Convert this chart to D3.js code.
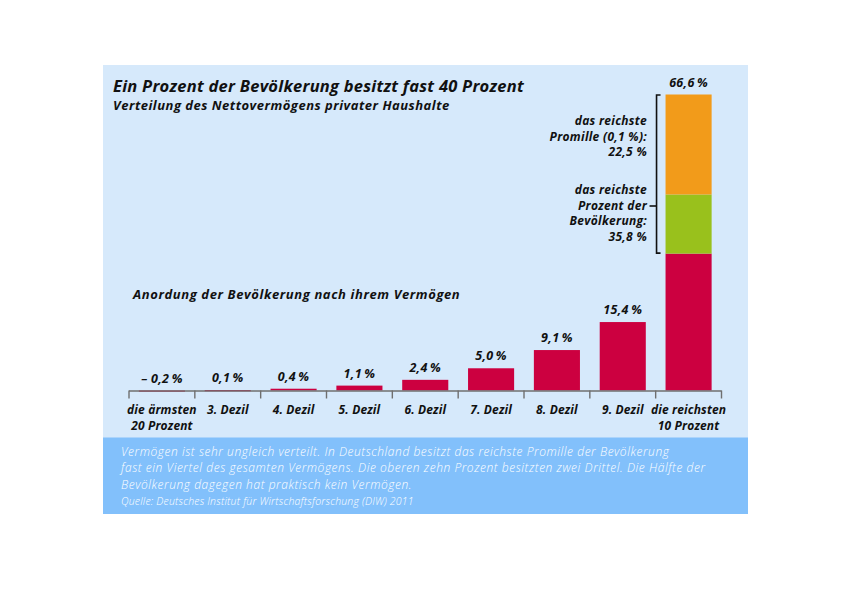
<!DOCTYPE html>
<html><head><meta charset="utf-8">
<script src="https://cdn.jsdelivr.net/npm/d3@7"></script>
<style>
body{margin:0;background:#fff;}
svg{display:block;}
text{font-family:"Open Sans","DejaVu Sans",sans-serif;}
</style></head>
<body>
<svg id="chart" width="842" height="595"></svg>
<script>
// ---- data ----
const categories = [["die ärmsten","20 Prozent"],["3. Dezil"],["4. Dezil"],["5. Dezil"],["6. Dezil"],["7. Dezil"],["8. Dezil"],["9. Dezil"],["die reichsten","10 Prozent"]];
const values = [-0.2, 0.1, 0.4, 1.1, 2.4, 5.0, 9.1, 15.4, 66.6];
// top decile breakdown (cumulative shares from the top)
const topPercentShare = 35.8;   // richest 1 %
const topPromilleShare = 22.5;  // richest 0.1 %
const titleText = "Ein Prozent der Bevölkerung besitzt fast 40 Prozent";
const subtitleText = "Verteilung des Nettovermögens privater Haushalte";
const axisTitle = "Anordung der Bevölkerung nach ihrem Vermögen";
const promilleLabel = ["das reichste","Promille (0,1 %):","22,5 %"];
const percentLabel = ["das reichste","Prozent der","Bevölkerung:","35,8 %"];
const noteLines = [
 "Vermögen ist sehr ungleich verteilt. In Deutschland besitzt das reichste Promille der Bevölkerung",
 "fast ein Viertel des gesamten Vermögens. Die oberen zehn Prozent besitzten zwei Drittel. Die Hälfte der",
 "Bevölkerung dagegen hat praktisch kein Vermögen."
];
const sourceText = "Quelle: Deutsches Institut für Wirtschaftsforschung (DIW) 2011";

// ---- styling ----
const C = {panel:"#d6e9fb", band:"#82c0fb", red:"#cc0040", green:"#99c11c", orange:"#f29b1a", axis:"#6f6f6f", text:"#111"};
const svg = d3.select("#chart");

svg.append("rect").attr("x",103).attr("y",65).attr("width",645).attr("height",373).attr("fill",C.panel);
svg.append("rect").attr("x",103).attr("y",437.5).attr("width",645).attr("height",76.5).attr("fill",C.band);

const keys = categories.map((c,i)=>"c"+i);
const x = d3.scaleBand().domain(keys).range([129,721.5]).paddingInner(0.3).paddingOuter(0.15);
const y = d3.scaleLinear().domain([0,66.6]).range([390.5,94.5]);

const fmt = d3.formatLocale({decimal:",",thousands:".",grouping:[3],currency:["","€"],minus:"\u2013 "}).format(".1f");

function boldItalic(sel,size,ls){
  return sel.attr("font-size",size).attr("font-weight",700).attr("font-style","italic").attr("fill",C.text).attr("letter-spacing",ls||0);
}

// titles
boldItalic(svg.append("text").attr("x",113).attr("y",92),16.5,0.25).text(titleText);
boldItalic(svg.append("text").attr("x",113).attr("y",110),13,0.5).text(subtitleText);
boldItalic(svg.append("text").attr("x",133).attr("y",299),13,0.6).text(axisTitle);

// bars (all but top decile)
const g = svg.append("g");
values.forEach((v,i)=>{
  const k = keys[i];
  if(i < values.length-1){
    g.append("rect").attr("x",x(k)).attr("width",x.bandwidth())
      .attr("y",y(Math.max(v,0))).attr("height",Math.max(Math.abs(y(v)-y(0)),1.2)).attr("fill",C.red);
  }
});
// top decile stacked
const kTop = keys[keys.length-1], vTop = values[values.length-1];
const segs = [
  {from:0, to:vTop-topPercentShare, c:C.red},
  {from:vTop-topPercentShare, to:vTop-topPromilleShare, c:C.green},
  {from:vTop-topPromilleShare, to:vTop, c:C.orange}
];
segs.forEach(s=>{
  g.append("rect").attr("x",x(kTop)).attr("width",x.bandwidth())
   .attr("y",y(s.to)).attr("height",y(s.from)-y(s.to)).attr("fill",s.c);
});

// axis
const ax = svg.append("g").attr("stroke",C.axis).attr("stroke-width",1.4);
ax.append("line").attr("x1",x.range()[0]).attr("x2",x.range()[1]).attr("y1",y(0)+0.5).attr("y2",y(0)+0.5);
d3.range(keys.length+1).forEach(i=>{
  const tx = x.range()[0] + i*x.step();
  ax.append("line").attr("x1",tx).attr("x2",tx).attr("y1",y(0)).attr("y2",y(0)+8);
});

// value labels
values.forEach((v,i)=>{
  boldItalic(svg.append("text").attr("x",x(keys[i])+x.bandwidth()/2).attr("y",y(Math.max(v,0))-8)
    .attr("text-anchor","middle"),12.5,0.3)
    .text(fmt(v).replace(/(\d)$/,"$1\u2009%"));
});

// category labels
categories.forEach((lines,i)=>{
  const t = boldItalic(svg.append("text").attr("text-anchor","middle"),12,0.15);
  lines.forEach((l,j)=>t.append("tspan").attr("x",x(keys[i])+x.bandwidth()/2).attr("y",414+j*15.5).text(l));
});

// bracket
const bx = x(kTop)-9;
const br = svg.append("g").attr("stroke","#111").attr("stroke-width",1.6).attr("fill","none");
br.append("path").attr("d",`M${bx+4},${y(vTop)+0.5}H${bx}V${y(vTop-topPercentShare)-0.5}H${bx+4}`);
br.append("line").attr("x1",bx-7).attr("x2",bx).attr("y1",206).attr("y2",206);

function block(lines, y0){
  const t = boldItalic(svg.append("text").attr("text-anchor","end"),12,0.3);
  lines.forEach((l,j)=>t.append("tspan").attr("x",647).attr("y",y0+j*15.7).text(l));
}
block(promilleLabel,125);
block(percentLabel,194);

// note (separate text elements per line)
noteLines.forEach((l,j)=>{
  svg.append("text").attr("x",121).attr("y",456+j*16.4).attr("font-size",12).attr("letter-spacing",0.55)
    .attr("font-weight",300).attr("font-style","italic").attr("fill","#fff").text(l);
});
svg.append("text").attr("x",121).attr("y",504.5).attr("font-size",10.5).attr("letter-spacing",0.2).attr("font-weight",300).attr("font-style","italic").attr("fill","#fff").text(sourceText);
</script>
</body></html>
